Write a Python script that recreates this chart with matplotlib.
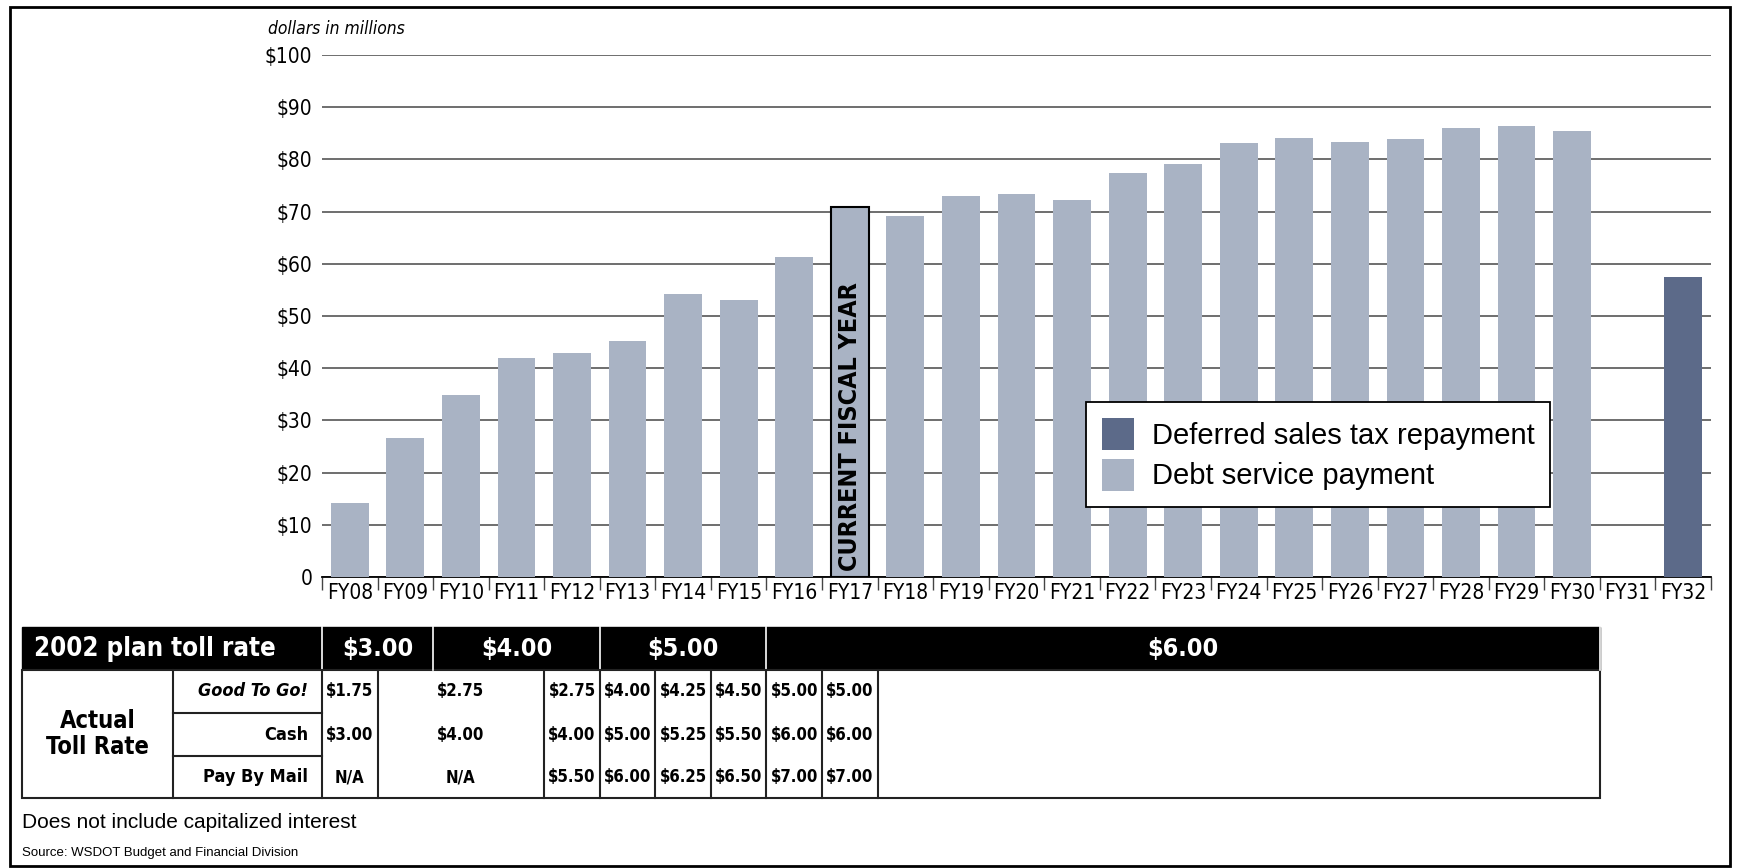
import matplotlib
matplotlib.use("Agg")
import matplotlib.pyplot as plt
from matplotlib.patches import Rectangle, Patch
from matplotlib.transforms import blended_transform_factory

years = ["FY08", "FY09", "FY10", "FY11", "FY12", "FY13", "FY14", "FY15", "FY16",
         "FY17", "FY18", "FY19", "FY20", "FY21", "FY22", "FY23", "FY24", "FY25",
         "FY26", "FY27", "FY28", "FY29", "FY30", "FY31", "FY32"]
debt_service = [14.1, 26.7, 34.9, 42.0, 43.0, 45.2, 54.3, 53.0, 61.3, 70.8, 69.1,
                73.0, 73.3, 72.3, 77.3, 79.1, 83.1, 84.1, 83.3, 84.0, 86.0, 86.4,
                85.5, 0, 0]
deferred_tax = [0] * 24 + [57.5]
current_year = "FY17"

yticks = [0, 10, 20, 30, 40, 50, 60, 70, 80, 90, 100]
ytick_labels = ["0"] + [f"${v}" for v in yticks[1:]]

# 2002 plan toll rate: (label, first year, last year)
plan_rates = [("$3.00", "FY08", "FY09"), ("$4.00", "FY10", "FY12"),
              ("$5.00", "FY13", "FY15"), ("$6.00", "FY16", "FY30")]
# actual toll rates: (first year, last year, good to go, cash, pay by mail)
actual_rates = [
    ("FY08", "FY08", "$1.75", "$3.00", "N/A"),
    ("FY09", "FY11", "$2.75", "$4.00", "N/A"),
    ("FY12", "FY12", "$2.75", "$4.00", "$5.50"),
    ("FY13", "FY13", "$4.00", "$5.00", "$6.00"),
    ("FY14", "FY14", "$4.25", "$5.25", "$6.25"),
    ("FY15", "FY15", "$4.50", "$5.50", "$6.50"),
    ("FY16", "FY16", "$5.00", "$6.00", "$7.00"),
    ("FY17", "FY17", "$5.00", "$6.00", "$7.00"),
]
row_labels = ["Good To Go!", "Cash", "Pay By Mail"]

NARROW = ["Liberation Sans Narrow", "DejaVu Sans"]
STRETCH = "condensed"
REGULAR = ["Liberation Sans", "DejaVu Sans"]
LIGHT = "#a9b3c4"
DARK = "#5c6a89"

W, H = 1737, 868
fig = plt.figure(figsize=(W / 100, H / 100), dpi=100)
fig.patch.set_facecolor("white")

def fy(px):
    return 1 - px / H

ax = fig.add_axes([322 / W, fy(577), (1711 - 322) / W, (577 - 55) / H])
x = list(range(len(years)))

edges = ["none"] * len(years)
edges[years.index(current_year)] = "black"
ax.bar(x, debt_service, width=0.68, color=LIGHT, edgecolor=edges, linewidth=1.5, zorder=3)
ax.bar(x, deferred_tax, width=0.68, bottom=debt_service, color=DARK, zorder=3)

ax.set_xlim(-0.5, len(years) - 0.5)
ax.set_ylim(0, 100)
ax.set_yticks(yticks)
ax.set_yticklabels(ytick_labels, family=NARROW, stretch=STRETCH, fontsize=15)
ax.tick_params(axis="y", length=0, pad=7)
ax.grid(axis="y", color="#555555", linewidth=1.2, zorder=0)
ax.set_xticks(x)
ax.set_xticklabels(years, family=NARROW, stretch=STRETCH, fontsize=15)
ax.set_xticks([i - 0.5 for i in range(len(years) + 1)], minor=True)
ax.tick_params(axis="x", which="major", length=0, pad=4)
ax.tick_params(axis="x", which="minor", length=9, width=1, color="#444444")
for s in ["top", "right", "left"]:
    ax.spines[s].set_visible(False)
ax.spines["bottom"].set_linewidth(1.3)

ax.text(years.index(current_year), 1.2, "CURRENT FISCAL YEAR", rotation=90,
        ha="center", va="bottom", family=NARROW, stretch=STRETCH, fontweight="bold",
        fontsize=18, zorder=4)

handles = [Patch(facecolor=DARK, label="Deferred sales tax repayment"),
           Patch(facecolor=LIGHT, label="Debt service payment")]
leg = ax.legend(handles=handles, loc="upper left", bbox_to_anchor=(0.55, 0.335),
                borderaxespad=0, prop={"family": REGULAR, "size": 21}, frameon=True,
                fancybox=False, edgecolor="black", framealpha=1, handlelength=1.1,
                handleheight=1.3, handletextpad=0.6, labelspacing=0.3, borderpad=0.55)
leg.get_frame().set_linewidth(1.3)
leg.set_zorder(5)

fig.text(268 / W, fy(29), "dollars in millions", family=NARROW, stretch=STRETCH,
         style="italic", fontsize=12.5, va="center", ha="left")

# toll rate table under the chart, columns follow the chart categories
tr = blended_transform_factory(ax.transData, fig.transFigure)
inv = ax.transData.inverted()

def fx(px):
    return inv.transform((px, 0))[0]

def idx(y):
    return years.index(y)

tbl_left = fx(22)
lab_col = fx(173)
tbl_right = idx("FY30") + 0.5
top, head_bot, r1, r2, bot = 627, 670, 713, 756, 798

def box(x0, x1, y0, y1, **kw):
    r = Rectangle((x0, fy(y1)), x1 - x0, fy(y0) - fy(y1), transform=tr, clip_on=False, **kw)
    fig.add_artist(r)

def vline(xv, y0, y1, color="#222222", lw=1.5):
    fig.add_artist(plt.Line2D([xv, xv], [fy(y0), fy(y1)], transform=tr, color=color,
                              linewidth=lw, clip_on=False))

def hline(x0, x1, yv, color="#222222", lw=1.5):
    fig.add_artist(plt.Line2D([x0, x1], [fy(yv), fy(yv)], transform=tr, color=color,
                              linewidth=lw, clip_on=False))

def label(xv, yv, s, size, **kw):
    fig.text(xv, fy(yv), s, transform=tr, family=NARROW, stretch=STRETCH,
             fontweight="bold", fontsize=size, va="center", **kw)

box(tbl_left, tbl_right, top, head_bot, facecolor="black", edgecolor="black")
box(tbl_left, tbl_right, head_bot, bot, facecolor="white", edgecolor="#222222", linewidth=1.5)

head_mid = (top + head_bot) / 2
label(fx(155), head_mid, "2002 plan toll rate", 18.5, color="white", ha="center")
vline(-0.5, top, head_bot, color="white", lw=1.2)
for rate, a, b in plan_rates:
    x0, x1 = idx(a) - 0.5, idx(b) + 0.5
    label((x0 + x1) / 2, head_mid, rate, 18, color="white", ha="center")
    vline(x1, top, head_bot, color="white", lw=1.2)

label((tbl_left + lab_col) / 2, (head_bot + bot) / 2, "Actual\nToll Rate", 17,
      ha="center", multialignment="center", linespacing=1.1)
vline(lab_col, head_bot, bot)
vline(-0.5, head_bot, bot)
hline(lab_col, -0.5, r1)
hline(lab_col, -0.5, r2)
row_mid = [(head_bot + r1) / 2, (r1 + r2) / 2, (r2 + bot) / 2]
for i, lab in enumerate(row_labels):
    label(fx(308), row_mid[i], lab, 13, ha="right", style="italic" if i == 0 else "normal")

for a, b, g, c, m in actual_rates:
    x0, x1 = idx(a) - 0.5, idx(b) + 0.5
    for i, v in enumerate([g, c, m]):
        label((x0 + x1) / 2, row_mid[i], v, 12, ha="center")
    vline(x1, head_bot, bot)

fig.text(22 / W, fy(822), "Does not include capitalized interest", family=REGULAR,
         fontsize=15, va="center", ha="left")
fig.text(22 / W, fy(853), "Source: WSDOT Budget and Financial Division", family=REGULAR,
         fontsize=9.5, va="center", ha="left")

fig.add_artist(Rectangle((10 / W, fy(866)), (1730 - 10) / W, (866 - 7) / H,
                         transform=fig.transFigure, fill=False, edgecolor="black", linewidth=2))

fig.savefig("out.png", dpi=100)
